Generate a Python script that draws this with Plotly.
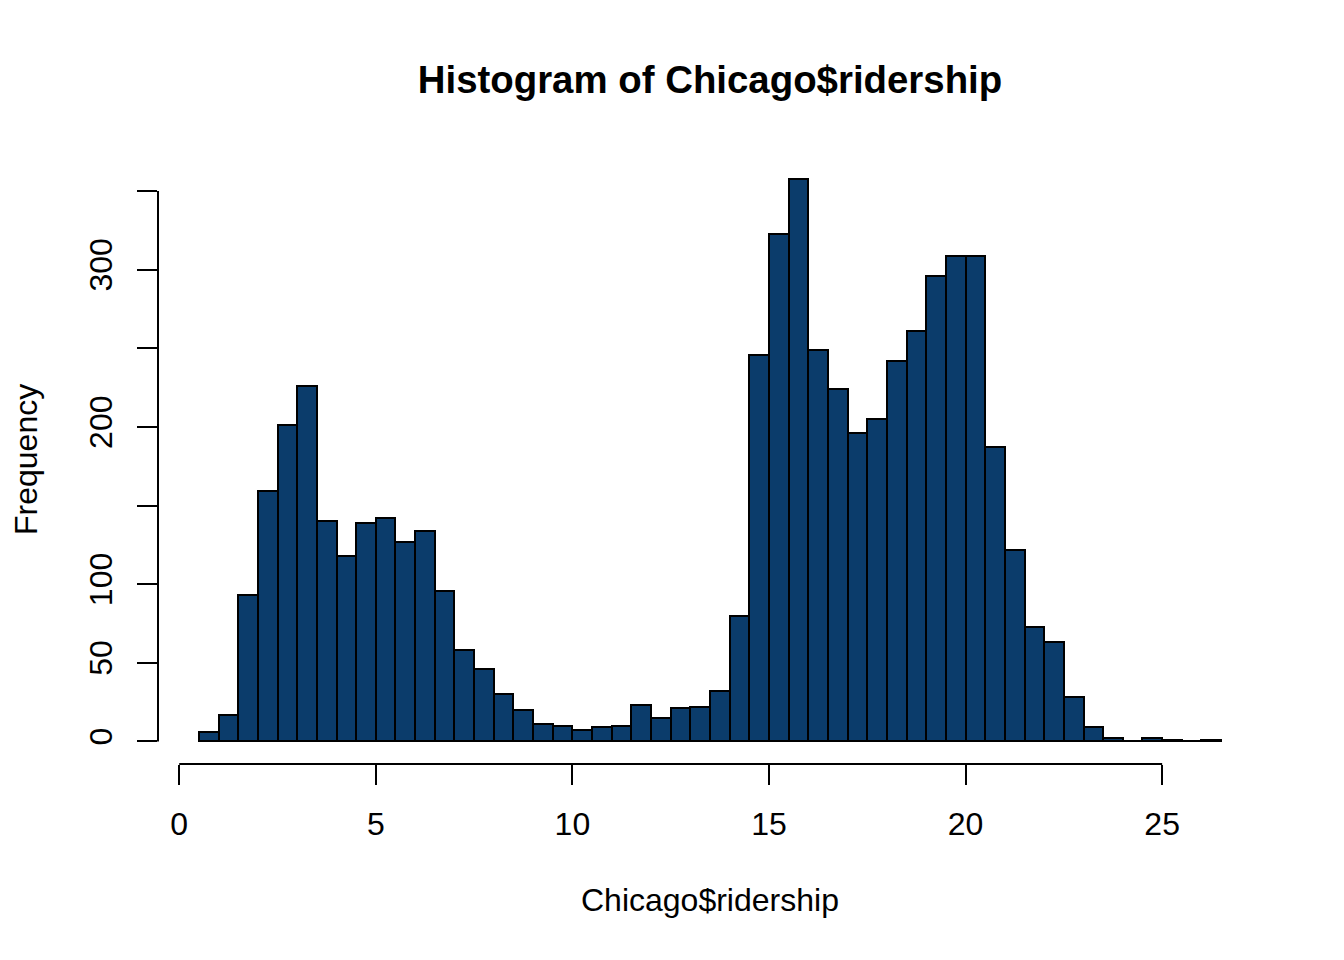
import plotly.graph_objects as go

# Histogram data (R hist of Chicago$ridership), breaks of width 0.5 starting at 0.5
bin_start = 0.5
bin_width = 0.5
counts = [6, 17, 93, 159, 201, 226, 140, 118, 139, 142, 127, 134, 96, 58, 46, 30,
          20, 11, 10, 7, 9, 10, 23, 15, 21, 22, 32, 80, 246, 323, 358, 249, 224,
          196, 205, 242, 261, 296, 309, 309, 187, 122, 73, 63, 28, 9, 2, 0, 2, 1, 0, 1]

x_ticks = [0, 5, 10, 15, 20, 25]
y_ticks = [0, 50, 100, 150, 200, 250, 300, 350]
y_ticktext = ["0", "50", "100", "", "200", "", "300", ""]

title_text = "Histogram of Chicago$ridership"
x_title = "Chicago$ridership"
y_title = "Frequency"

bar_color = "#0b3c6b"
font_family = "Liberation Sans, Arial, Helvetica, sans-serif"

centers = [bin_start + bin_width * (i + 0.5) for i in range(len(counts))]
x_min = bin_start
x_max = bin_start + bin_width * len(counts)
pad_x = 0.04 * (x_max - x_min)
y_max = max(counts)
pad_y = 0.04 * y_max

# page offset compensation (browser body margin)
off = 8
L, R, T, B = 158 - off, 82 + off, 156 - off, 196 + off
plot_h = 960 - T - B
plot_w = 1344 - L - R

fig = go.Figure()
fig.add_trace(go.Bar(
    x=centers, y=counts, width=bin_width,
    marker=dict(color=bar_color, line=dict(color="black", width=2)),
    showlegend=False, hoverinfo="x+y",
))

# R-style axis lines spanning only the tick range
fig.add_shape(type="line", xref="x", yref="paper",
              x0=min(x_ticks), x1=max(x_ticks), y0=0, y1=0,
              line=dict(color="black", width=2))
fig.add_shape(type="line", xref="paper", yref="y",
              x0=0, x1=0, y0=min(y_ticks), y1=max(y_ticks),
              line=dict(color="black", width=2))

fig.update_layout(
    width=1344, height=960,
    paper_bgcolor="white", plot_bgcolor="white",
    margin=dict(l=L, r=R, t=T, b=B),
    font=dict(family=font_family, color="black", size=32),
    bargap=0,
    title=dict(text="<b>" + title_text + "</b>", x=0.5, xref="paper",
               y=1 - (80 - off) / 960, yref="container", yanchor="middle", xanchor="center",
               font=dict(size=38.4, family=font_family, color="black")),
    xaxis=dict(range=[x_min - pad_x, x_max + pad_x],
               tickvals=x_ticks, ticktext=[str(v) for v in x_ticks],
               ticks="outside", ticklen=20, tickwidth=2, tickcolor="black",
               showline=False, showgrid=False, zeroline=False,
               tickfont=dict(size=32), ticklabelstandoff=12),
    yaxis=dict(range=[-pad_y, y_max + pad_y],
               tickvals=y_ticks, ticktext=y_ticktext, tickangle=-90,
               ticks="outside", ticklen=20, tickwidth=2, tickcolor="black",
               showline=False, showgrid=False, zeroline=False,
               tickfont=dict(size=32), ticklabelstandoff=12),
    annotations=[
        dict(text=x_title, xref="paper", yref="paper", x=0.5, y=-(900 - 764) / plot_h,
             xanchor="center", yanchor="middle", showarrow=False,
             font=dict(size=32)),
        dict(text=y_title, xref="paper", yref="paper", x=(26 - 158) / plot_w, y=0.5,
             xanchor="center", yanchor="middle", textangle=-90, showarrow=False,
             font=dict(size=32)),
    ],
)

fig.write_html("out.html")
